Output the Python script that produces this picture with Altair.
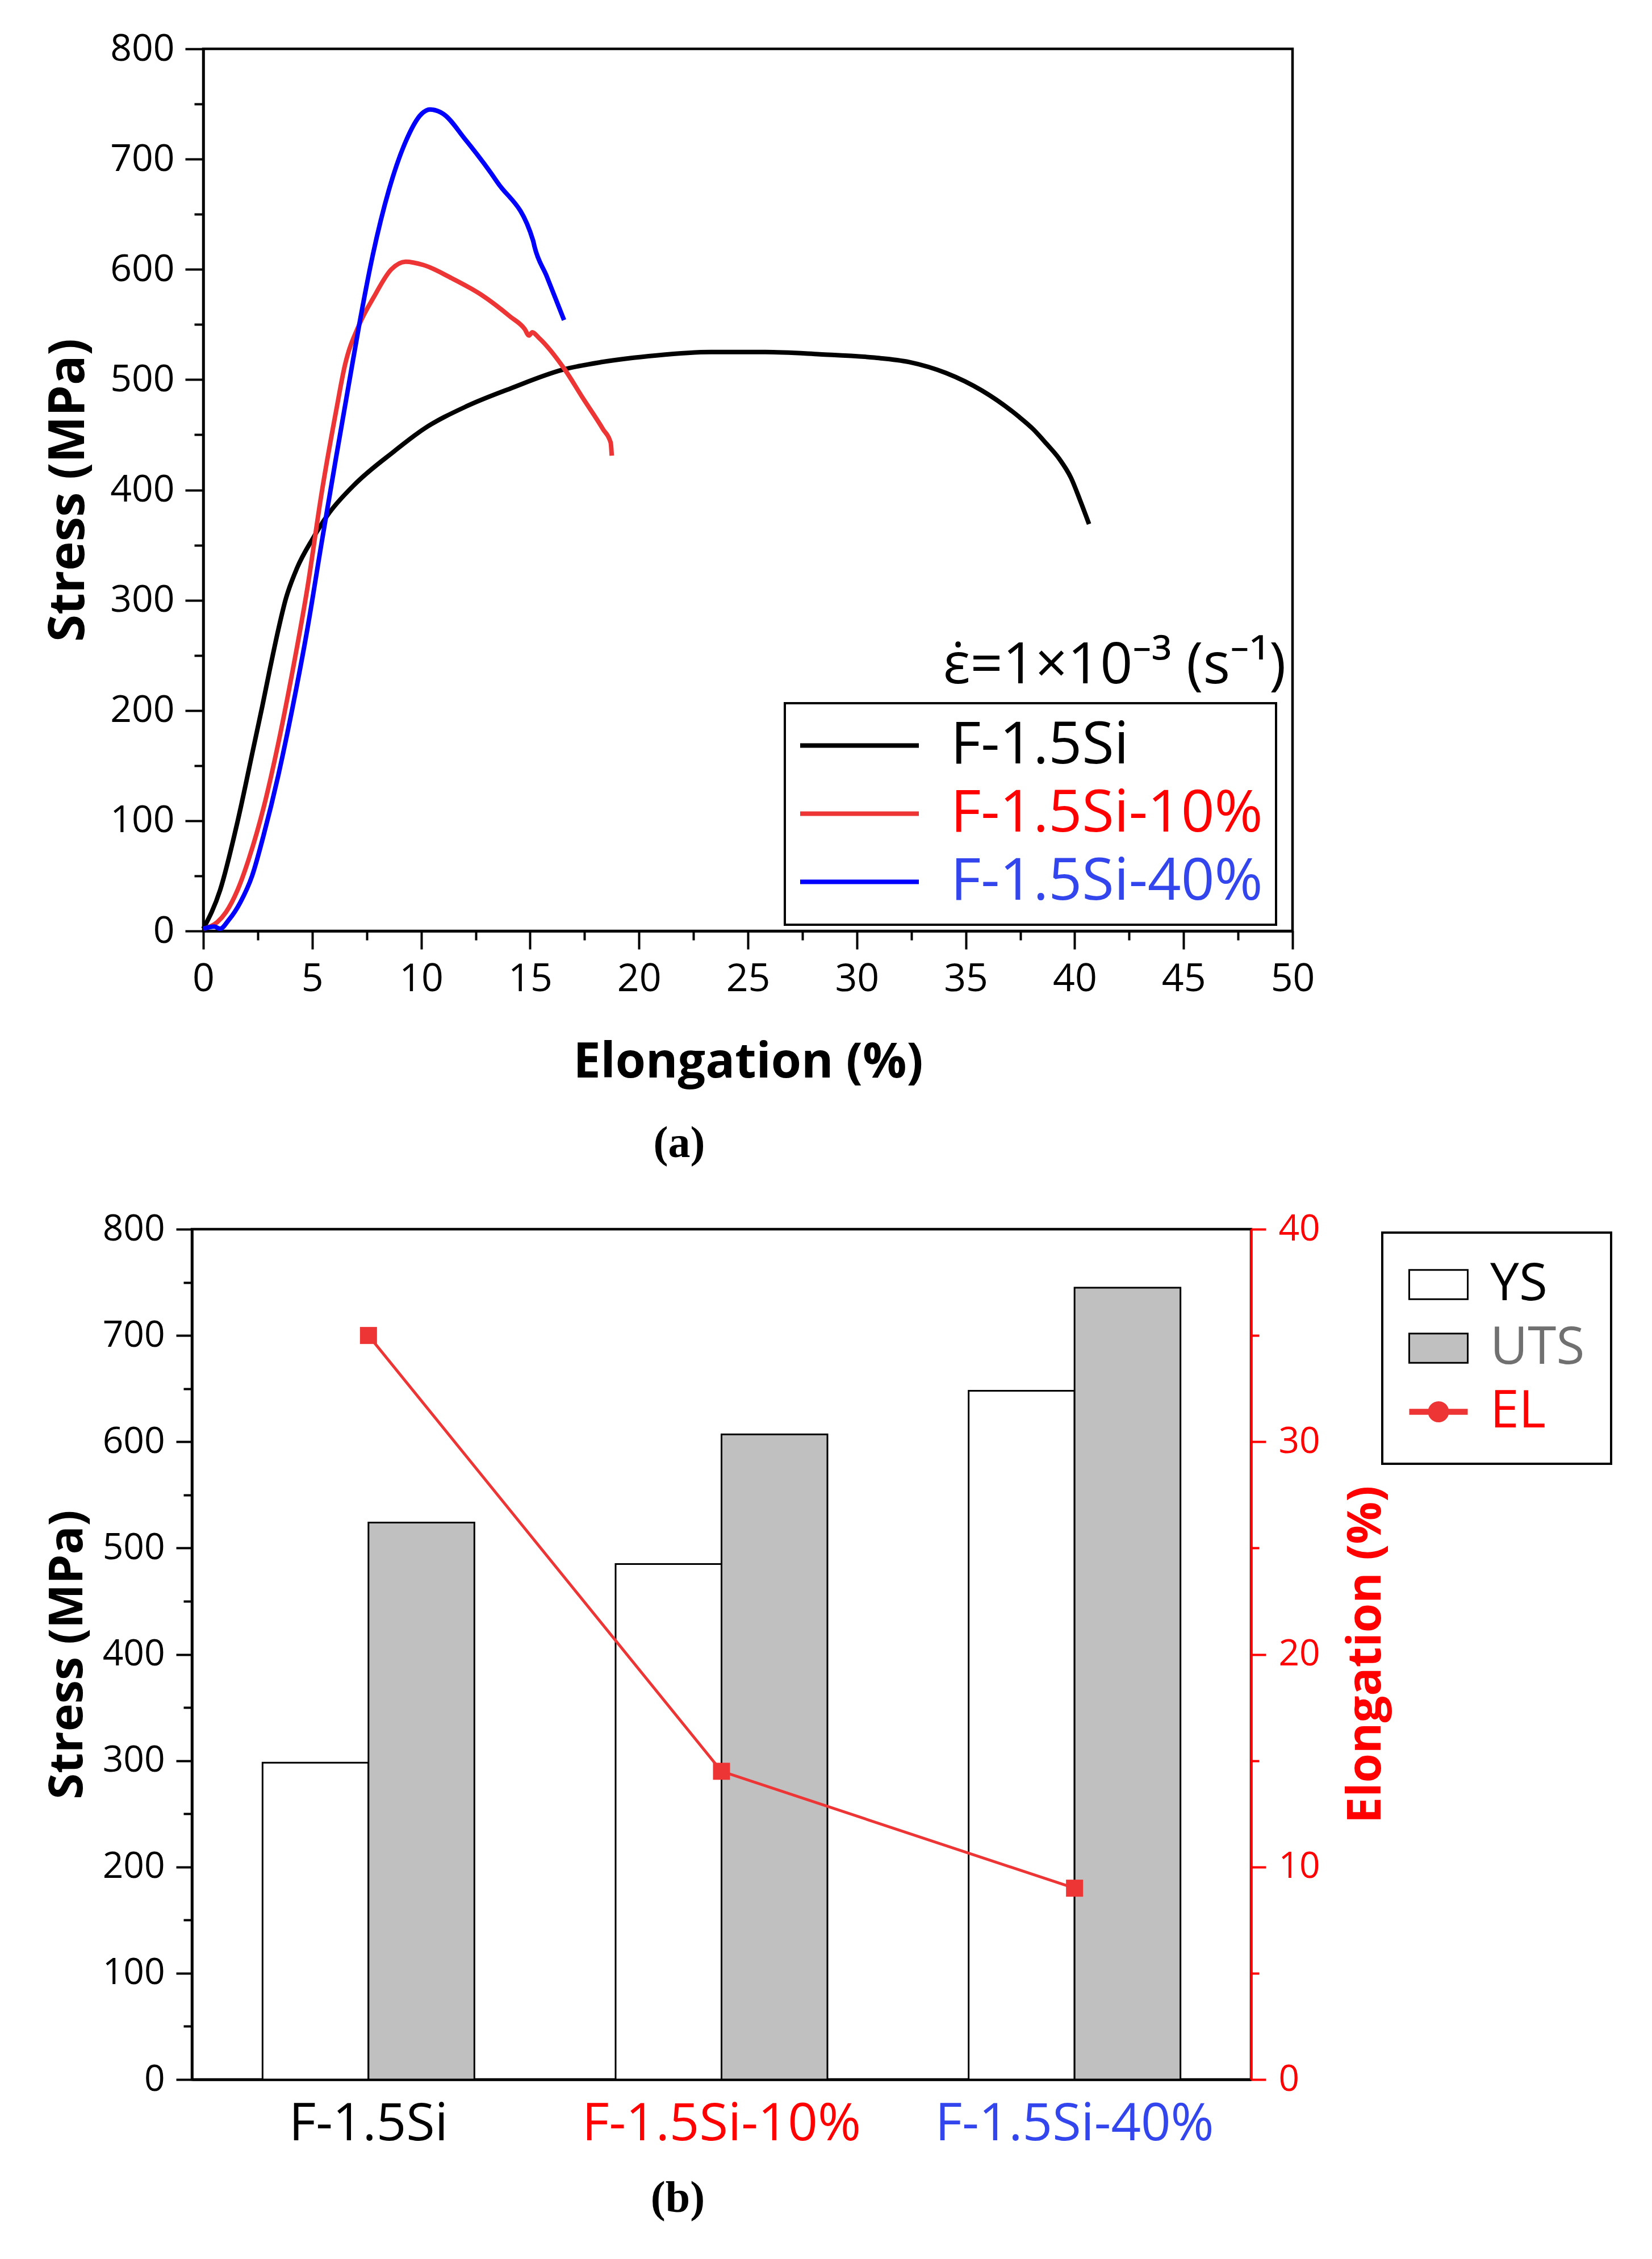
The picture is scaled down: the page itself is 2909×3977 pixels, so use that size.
import altair as alt
import pandas as pd

# ---------------- (a) stress-strain curves ----------------
# elongation (%) / stress (MPa)
f15_elong = [0, 0.77, 1.57, 2.3, 2.7, 3.04, 3.44, 3.77, 4.3, 5.03,
             5.7, 6.9, 8.76, 10.1, 12.1, 14.1, 16.5, 18.3, 20.8, 23.3,
             25.8, 28.3, 30.8, 32.4, 34.1, 35.75, 37.4, 38.1, 38.7, 39.3,
             39.83, 40.24, 40.66]
f15_stress = [2, 37, 99, 166, 203, 236, 273, 300, 329, 356,
              377, 404, 435, 455, 476, 492, 509, 516, 522, 525,
              525, 523, 520, 516, 506, 490, 467, 455, 442, 428,
              411, 391, 369]

f10_elong = [0, 0.64, 1.04, 1.57, 2.1, 2.77, 3.44, 4.1, 4.77, 5.43,
             6.1, 6.5, 7.16, 7.83, 8.63, 9.29, 10.1, 11.4, 12.76, 14.1,
             14.75, 14.95, 15.1, 15.4, 16.6, 17.4, 18.35, 18.7, 18.75]
f10_stress = [2, 8, 17, 37, 66, 112, 170, 236, 310, 397,
              472, 513, 550, 575, 600, 607, 604, 592, 577, 557,
              546, 540, 543, 538, 509, 484, 455, 443, 431]

f40_elong = [0, 0.5, 0.77, 1.17, 1.7, 2.24, 2.77, 3.44, 4.1, 4.77,
             5.43, 6.1, 6.76, 7.16, 7.78, 8.52, 9.27, 10.02, 10.4, 11.02,
             12.02, 13.5, 15.14, 15.2, 15.76, 16.56]
f40_stress = [2, 4, 2, 10, 26, 50, 87, 141, 203, 273,
              352, 430, 505, 550, 613, 672, 715, 741, 745, 741,
              718, 679, 626, 621, 594, 554]

samples = ["F-1.5Si", "F-1.5Si-10%", "F-1.5Si-40%"]
curve_colors = ["#000000", "#ee3535", "#0000ff"]

# strain-rate note, placed in data units
note_x = [49.7]
note_y = [240]
note_text = ["\u03b5\u0307=1\u00d710\u207b\u00b3 (s\u207b\u00b9)"]

# tick positions (major + minor)
top_x_ticks = [i * 2.5 for i in range(21)]
top_y_ticks = [i * 50 for i in range(17)]

# ---------------- (b) tensile properties ----------------
metrics = ["YS", "UTS"]
ys_vals = [298, 485, 648]
uts_vals = [524, 607, 745]
el_vals = [35.0, 14.5, 9.0]

bot_y_ticks = [i * 50 for i in range(17)]
bot_el_ticks = [i * 5 for i in range(9)]

FONT = "Open Sans"

curves = pd.concat([
    pd.DataFrame({"elong": e, "stress": s, "sample": n})
    for n, e, s in zip(samples,
                       [f15_elong, f10_elong, f40_elong],
                       [f15_stress, f10_stress, f40_stress])
], ignore_index=True)

note = pd.DataFrame({"elong": note_x, "stress": note_y, "text": note_text})

bar_df = pd.DataFrame({
    "alloy": samples * 2,
    "metric": ["YS"] * 3 + ["UTS"] * 3,
    "stress": ys_vals + uts_vals,
})
el_df = pd.DataFrame({"alloy": samples, "el": el_vals})

name_color = ("datum.value == 'F-1.5Si-10%' ? '#ff0000' : "
              "datum.value == 'F-1.5Si-40%' ? '#3346ee' : '#000000'")


def axis(**kw):
    base = dict(domainColor="#000000", domainWidth=4.5, tickColor="#000000",
                tickWidth=4, labelFont=FONT, labelColor="#000000",
                labelFlush=False, labelOverlap=False, labelLimit=1000,
                titleFont=FONT, titleFontWeight="bold", titleColor="#000000",
                grid=False)
    base.update(kw)
    return alt.Axis(**base)


# ---------------- chart (a) ----------------
curve_layer = alt.Chart(curves).mark_line(strokeWidth=8, interpolate="monotone").encode(
    x=alt.X("elong:Q", title="Elongation (%)",
            scale=alt.Scale(domain=[0, 50], nice=False),
            axis=axis(values=top_x_ticks, labelFontSize=68, labelPadding=19,
                      labelExpr="datum.value % 5 == 0 ? datum.label : ''",
                      tickSize={"condition": {"test": "datum.value % 5 == 0", "value": 32}, "value": 16},
                      titleFontSize=86, titlePadding=70)),
    y=alt.Y("stress:Q", title="Stress (MPa)",
            scale=alt.Scale(domain=[0, 800], nice=False),
            axis=axis(values=top_y_ticks, labelFontSize=66, labelPadding=19,
                      labelExpr="datum.value % 100 == 0 ? datum.label : ''",
                      tickSize={"condition": {"test": "datum.value % 100 == 0", "value": 32}, "value": 16},
                      titleFontSize=87, titlePadding=28)),
    color=alt.Color("sample:N", sort=samples,
                    scale=alt.Scale(domain=samples, range=curve_colors),
                    legend=alt.Legend(title=None, orient="none", legendX=1024, legendY=1152,
                                      symbolType="stroke", symbolSize=43681, symbolStrokeWidth=8,
                                      labelFont=FONT, labelFontSize=103, labelOffset=52,
                                      labelLimit=1000, labelColor=alt.ExprRef(name_color),
                                      clipHeight=103, rowPadding=16, padding=23,
                                      fillColor="#ffffff", strokeColor="#000000")),
)

note_layer = alt.Chart(note).mark_text(align="right", baseline="middle", font=FONT,
                                       fontSize=100, color="#000000").encode(
    x="elong:Q", y="stress:Q", text="text:N")

top = alt.layer(curve_layer, note_layer).properties(
    width=1918, height=1553,
    title=alt.TitleParams("(a)", orient="bottom", anchor="middle", font="Liberation Serif",
                          fontSize=78, fontWeight="bold", color="#000000", dx=-121, offset=62),
)

# ---------------- chart (b) ----------------
x_bot = alt.X("alloy:N", sort=samples, title=None,
              scale=alt.Scale(paddingInner=0.4, paddingOuter=0.2),
              axis=axis(labelAngle=0, ticks=False, labelPadding=33, labelFontSize=92,
                        labelColor=alt.ExprRef(name_color)))

rect_path = "M-1,-0.5H1V0.5H-1Z"
el_path = "M-1,-0.1H1V0.1H-1Z M0.36,0A0.36,0.36 0 1 1 -0.36,0A0.36,0.36 0 1 1 0.36,0Z"

bars = alt.Chart(bar_df).mark_bar(stroke="#000000", strokeWidth=3).encode(
    x=x_bot,
    xOffset=alt.XOffset("metric:N", sort=metrics),
    y=alt.Y("stress:Q", title="Stress (MPa)",
            scale=alt.Scale(domain=[0, 800], nice=False),
            axis=axis(values=bot_y_ticks, labelFontSize=64, labelPadding=20,
                      labelExpr="datum.value % 100 == 0 ? datum.label : ''",
                      tickSize={"condition": {"test": "datum.value % 100 == 0", "value": 28}, "value": 15},
                      titleFontSize=83, titlePadding=19)),
    fill=alt.Fill("metric:N",
                  scale=alt.Scale(domain=["YS", "UTS", "EL"], range=["#ffffff", "#c0c0c0", "#ee3535"]),
                  legend=alt.Legend(title=None, orient="none", legendX=2096, legendY=6,
                                    symbolType=alt.ExprRef("datum.value == 'EL' ? '" + el_path + "' : '" + rect_path + "'"),
                                    symbolSize=10609, symbolStrokeWidth=3, symbolOpacity=1,
                                    symbolStrokeColor=alt.ExprRef("datum.value == 'EL' ? 'transparent' : '#000000'"),
                                    labelFont=FONT, labelFontSize=91, labelOffset=38, labelLimit=1000,
                                    labelColor=alt.ExprRef("datum.value == 'EL' ? '#ff0000' : datum.value == 'UTS' ? '#707070' : '#000000'"),
                                    clipHeight=91, rowPadding=20, padding=46,
                                    fillColor="#ffffff", strokeColor="#000000")),
)

el_axis = axis(orient="right", values=bot_el_ticks, labelFontSize=64, labelPadding=22,
               labelExpr="datum.value % 10 == 0 ? datum.label : ''",
               tickSize={"condition": {"test": "datum.value % 10 == 0", "value": 26}, "value": 14},
               domainColor="#ff0000", tickColor="#ff0000", labelColor="#ff0000",
               titleColor="#ff0000", titleFontSize=83, titlePadding=40,
               titleAngle=270, titleBaseline="top")

el_line = alt.Chart(el_df).mark_line(color="#ee3535", strokeWidth=5).encode(
    x=x_bot,
    y=alt.Y("el:Q", title="Elongation (%)", scale=alt.Scale(domain=[0, 40], nice=False), axis=el_axis),
)
el_pts = alt.Chart(el_df).mark_square(size=900, color="#ee3535", opacity=1).encode(
    x=x_bot,
    y=alt.Y("el:Q", scale=alt.Scale(domain=[0, 40], nice=False), axis=el_axis),
)

bottom = alt.layer(bars, alt.layer(el_line, el_pts)).resolve_scale(y="independent").properties(
    width=1865, height=1497,
    title=alt.TitleParams("(b)", orient="bottom", anchor="middle", font="Liberation Serif",
                          fontSize=78, fontWeight="bold", color="#000000", dx=-77, offset=47),
)


# a 1px invisible column in front of each panel, so the panels line up by their left
# edges (axis titles) rather than by their plot areas
def spacer():
    return alt.Chart(pd.DataFrame({"v": [0]})).mark_point(opacity=0).properties(
        width=1, height=1, view=alt.ViewBackground(strokeOpacity=0))


panel_a = alt.hconcat(spacer(), top, spacing=0).resolve_scale(color="independent")
panel_b = alt.hconcat(spacer(), bottom, spacing=0).resolve_scale(fill="independent")

chart = alt.vconcat(panel_a, panel_b, spacing=73).resolve_scale(
    color="independent", fill="independent"
).properties(
    padding={"left": 60, "top": 42, "right": 20, "bottom": 10},
).configure_view(
    stroke="#000000", strokeWidth=4.5
).configure_legend(
    strokeWidth=4
)

chart.save("out.html", embed_options={"renderer": "svg", "actions": False})
